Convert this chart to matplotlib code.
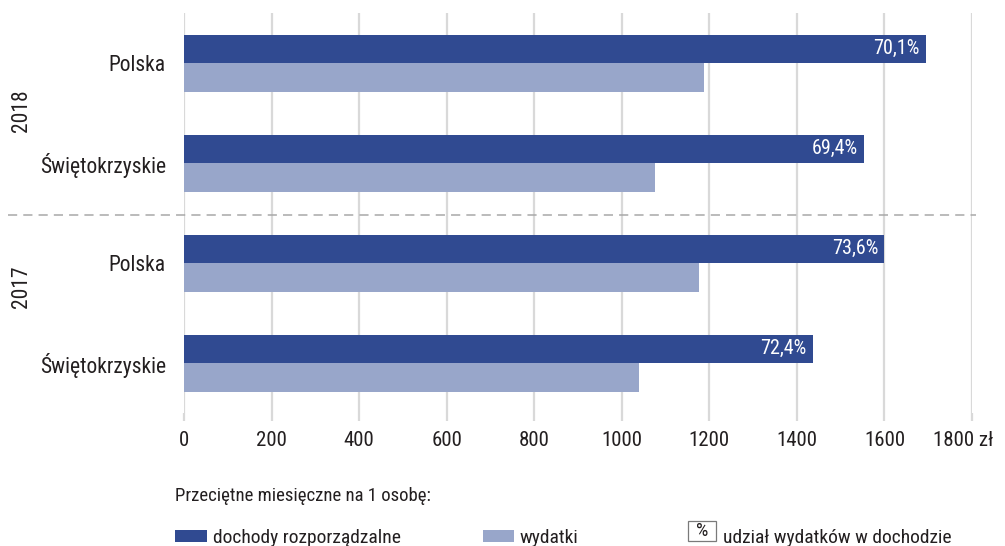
import matplotlib
matplotlib.use("Agg")
import matplotlib.pyplot as plt
from matplotlib import font_manager
from matplotlib.patches import Rectangle
from matplotlib.lines import Line2D
from matplotlib.transforms import ScaledTranslation
import numpy as np

# ---------------- data ----------------
categories = ['Polska', 'Świętokrzyskie', 'Polska', 'Świętokrzyskie']
years = ['2018', '2017']
dochody = [1694, 1553, 1599, 1436]
wydatki = [1188, 1077, 1177, 1039]
udzial = ['70,1%', '69,4%', '73,6%', '72,4%']
xticks = [0, 200, 400, 600, 800, 1000, 1200, 1400, 1600, 1800]
xticklabels = ['0', '200', '400', '600', '800', '1000', '1200', '1400', '1600', '1800 zł']
legend_title = 'Przeciętne miesięczne na 1 osobę:'
legend_labels = ['dochody rozporządzalne', 'wydatki', 'udział wydatków w dochodzie']

# ---------------- style ----------------
DARK = '#304a91'
LIGHT = '#98a6ca'
GRID = '#d9d9d9'
TEXT = '#231f20'

names = {f.name for f in font_manager.fontManager.ttflist}
FONT = 'DejaVu Sans'
for cand in ['Liberation Sans Narrow', 'Roboto Condensed', 'Open Sans Condensed', 'Noto Sans Condensed']:
    if cand in names:
        FONT = cand
        break
plt.rcParams['font.family'] = [FONT, 'DejaVu Sans']

W, H = 1005, 546
fig = plt.figure(figsize=(W / 100, H / 100), dpi=100)


def fx(x):
    return x / W


def fy(y):
    return 1 - y / H


ax_left, ax_right, ax_top, ax_bot = 184, 972, 13, 413
ax = fig.add_axes([fx(ax_left), fy(ax_bot), fx(ax_right - ax_left), (ax_bot - ax_top) / H])

y = np.arange(len(categories))
h = 0.285
ax.barh(y - h / 2, dochody, height=h, color=DARK, zorder=3)
ax.barh(y + h / 2, wydatki, height=h, color=LIGHT, zorder=3)

for yi, v, lab in zip(y, dochody, udzial):
    ax.annotate(lab, xy=(v, yi - h / 2), xytext=(-6, 0), textcoords='offset pixels',
                ha='right', va='center', color='white', fontsize=14.5, zorder=4)

ax.set_xlim(0, 1800)
ax.set_ylim(3.5, -0.5)
ax.set_xticks(xticks)
ax.set_xticklabels(xticklabels, fontsize=15, color=TEXT)
ax.set_yticks(y)
ax.set_yticklabels(categories, fontsize=15.5, color=TEXT)
ax.tick_params(axis='y', length=0, pad=13)
ax.tick_params(axis='x', length=6, width=1.6, color=GRID, pad=7)
ax.xaxis.grid(True, color=GRID, linewidth=1.6, zorder=0)
ax.set_axisbelow(True)
for s in ax.spines.values():
    s.set_visible(False)

last = ax.get_xticklabels()[-1]
last.set_transform(last.get_transform() + ScaledTranslation(-9 / 100, 0, fig.dpi_scale_trans))

# dashed separator between years
fig.add_artist(Line2D([fx(8), fx(976)], [fy(215), fy(215)], color='#a8a8a8',
                      linewidth=1.1, linestyle=(0, (6, 4))))

# year labels
fig.text(fx(22), fy(111), years[0], rotation=90, ha='center', va='center', fontsize=15.5, color=TEXT)
fig.text(fx(22), fy(287), years[1], rotation=90, ha='center', va='center', fontsize=15.5, color=TEXT)

# legend
fig.text(fx(175), fy(501), legend_title, ha='left', va='baseline', fontsize=13.5, color=TEXT)
fig.add_artist(Rectangle((fx(175), fy(542)), fx(32), 12 / H, facecolor=DARK, edgecolor='none'))
fig.text(fx(213), fy(543), legend_labels[0], ha='left', va='baseline', fontsize=14, color=TEXT)
fig.add_artist(Rectangle((fx(483), fy(542)), fx(31), 12 / H, facecolor=LIGHT, edgecolor='none'))
fig.text(fx(519), fy(543), legend_labels[1], ha='left', va='baseline', fontsize=14, color=TEXT)
fig.add_artist(Rectangle((fx(688), fy(541)), fx(28), 20 / H, facecolor='none', edgecolor='#7a7a7a', linewidth=0.9))
fig.text(fx(702), fy(531), '%', ha='center', va='center', fontsize=14, color=TEXT)
fig.text(fx(723), fy(543), legend_labels[2], ha='left', va='baseline', fontsize=14, color=TEXT)

fig.savefig('out.png', dpi=100)
